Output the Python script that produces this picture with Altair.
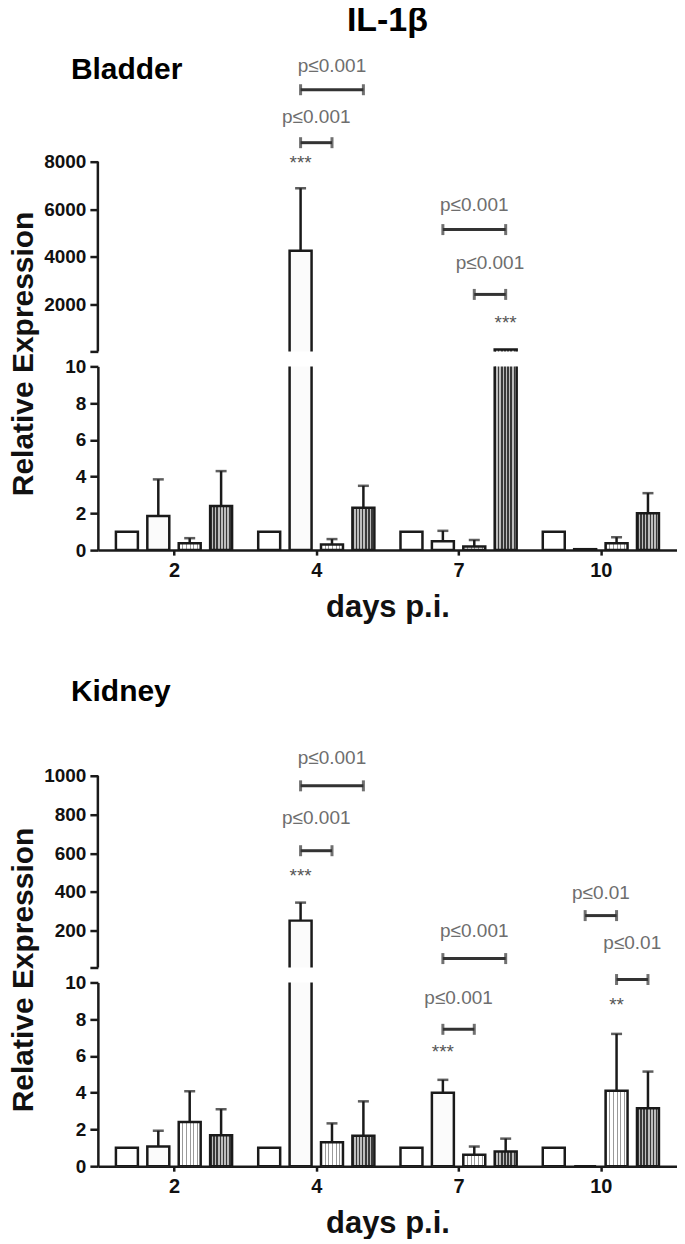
import json
import altair as alt
import pandas as pd

# ---------------- data ----------------
days = ["2", "4", "7", "10"]
series = ["group 1", "group 2", "group 3", "group 4"]

# mean relative expression, rows = day, cols = group
bladder_mean = [
    [1.0, 1.85, 0.38, 2.4],
    [1.0, 4250.0, 0.3, 2.3],
    [1.0, 0.48, 0.2, 90.0],
    [1.0, 0.05, 0.38, 2.0],
]
# top of the (upper) error bar
bladder_err = [
    [1.0, 3.85, 0.65, 4.3],
    [1.0, 6880.0, 0.6, 3.5],
    [1.0, 1.05, 0.55, 90.0],
    [1.0, 0.05, 0.7, 3.1],
]
kidney_mean = [
    [1.0, 1.07, 2.4, 1.68],
    [1.0, 252.0, 1.3, 1.66],
    [1.0, 4.0, 0.62, 0.8],
    [1.0, 0.0, 4.1, 3.15],
]
kidney_err = [
    [1.0, 1.93, 4.08, 3.1],
    [1.0, 345.0, 2.33, 3.53],
    [1.0, 4.7, 1.07, 1.5],
    [1.0, 0.0, 7.2, 5.15],
]

# significance brackets: (segment, day index, from group, to group, y value)
bladder_brackets = [
    ("upper", 1, 1, 2, 8800),
    ("upper", 1, 1, 3, 11030),
    ("upper", 2, 1, 3, 5140),
    ("upper", 2, 2, 3, 2410),
]
bladder_plabels = [
    ("upper", 1, 1, 2, 9890, "p≤0.001"),
    ("upper", 1, 1, 3, 12040, "p≤0.001"),
    ("upper", 2, 1, 3, 6190, "p≤0.001"),
    ("upper", 2, 2, 3, 3750, "p≤0.001"),
]
bladder_stars = [
    ("upper", 1, 1, 8126, "***"),
    ("upper", 2, 3, 1356, "***"),
]
kidney_brackets = [
    ("upper", 1, 1, 2, 613),
    ("upper", 1, 1, 3, 948),
    ("upper", 2, 1, 3, 56),
    ("lower", 2, 1, 2, 7.45),
    ("upper", 3, 1, 2, 278),
    ("lower", 3, 2, 3, 10.16),
]
kidney_plabels = [
    ("upper", 1, 1, 2, 783, "p≤0.001"),
    ("upper", 1, 1, 3, 1093, "p≤0.001"),
    ("upper", 2, 1, 3, 196, "p≤0.001"),
    ("lower", 2, 1, 2, 9.13, "p≤0.001"),
    ("upper", 3, 1, 2, 397, "p≤0.01"),
    ("upper", 3, 2, 3, 134, "p≤0.01"),
]
kidney_stars = [
    ("upper", 1, 1, 505, "***"),
    ("lower", 2, 1, 6.41, "***"),
    ("lower", 3, 2, 8.97, "**"),
]

bladder_upper_ticks = [10, 2000, 4000, 6000, 8000]
kidney_upper_ticks = [10, 200, 400, 600, 800, 1000]
lower_ticks = [0, 2, 4, 6, 8, 10]

# ---------------- styling / layout ----------------
FONT = "Liberation Sans"
INK = "#1a1a1a"
STEP = 32 / 145          # distance between bar centres, in group units
W = 580
xscale = alt.Scale(domain=[-0.5, 3.5], nice=False, zero=False)


def stripes(n, line, bg, frac):
    stops = []
    for i in range(n):
        a, b, c = i / n, (i + frac) / n, (i + 1) / n
        stops += [
            alt.GradientStop(offset=a, color=line),
            alt.GradientStop(offset=b, color=line),
            alt.GradientStop(offset=b, color=bg),
            alt.GradientStop(offset=c, color=bg),
        ]
    return alt.LinearGradient(gradient="linear", stops=stops, x1=0, x2=1, y1=0, y2=0)


fills = [
    "#ffffff",
    "#fbfbfb",
    stripes(6, "#9a9a9a", "#ffffff", 0.3),
    stripes(7, "#3a3a3a", "#bdbdbd", 0.5),
]


def pos(d, s):
    return d + (s - 1.5) * STEP


rows = []
for panel, mean, err in (("Bladder", bladder_mean, bladder_err),
                         ("Kidney", kidney_mean, kidney_err)):
    for d in range(len(days)):
        for s in range(len(series)):
            rows.append(dict(panel=panel, day=days[d], s=s, series=series[s],
                             mean=mean[d][s], err=err[d][s], pos=pos(d, s)))
bars = pd.DataFrame(rows)

x_axis_lower = alt.Axis(
    values=list(range(len(days))),
    labelExpr=f"{json.dumps(days)}[datum.value]",
    title="days p.i.", grid=False, tickSize=5, labelPadding=5,
    titlePadding=12, labelFontSize=20, titleFontSize=31,
)

yaxis_values_bottom = {"Bladder": 10, "Kidney": 10}
yaxis_values_top = {"Bladder": bladder_upper_ticks[-1], "Kidney": kidney_upper_ticks[-1]}


def seg_chart(panel, seg, ydomain, height, yaxis, xaxis,
              brackets, plabels, stars, title_y=None, main_title=None):
    ysc = alt.Scale(domain=ydomain, nice=False, zero=False)
    pb = bars[bars.panel == panel]
    if seg == "upper":
        bb = pb[pb["mean"] > 10]
        base = ydomain[0] - 0.2 * (ydomain[1] - ydomain[0])
        eb = pb[(pb["mean"] > 10) & (pb["err"] > pb["mean"])]
    else:
        bb = pb
        base = 0
        eb = pb[(pb["err"] > pb["mean"]) & (pb["err"] <= 10)]

    def X(f):
        return alt.X(f"{f}:Q", scale=xscale, axis=xaxis)

    def Y(f):
        return alt.Y(f"{f}:Q", scale=ysc, axis=yaxis)

    layers = []
    if seg == "upper":
        ax = pd.DataFrame({"lo": [yaxis_values_bottom[panel]], "hi": [yaxis_values_top[panel]]})
        layers.append(alt.Chart(ax).mark_rule(color=INK, strokeWidth=2.5).encode(
            x=alt.value(0), y=Y("lo"), y2="hi:Q"))
    for i in range(len(series)):
        d = bb[bb.s == i]
        if len(d) == 0:
            continue
        layers.append(alt.Chart(d).mark_bar(
            fill=fills[i], stroke=INK, strokeWidth=2.5, size=22, clip=True,
            orient="vertical").encode(x=X("pos"), y=Y("mean"), y2=alt.datum(base)))
    if len(eb):
        layers.append(alt.Chart(eb).mark_rule(color=INK, strokeWidth=2.5).encode(
            x=X("pos"), y=Y("mean"), y2="err:Q"))
        layers.append(alt.Chart(eb).mark_tick(
            color=INK, thickness=2.5, size=11, orient="horizontal").encode(
            x=X("pos"), y=Y("err")))

    br = [b for b in brackets if b[0] == seg]
    if br:
        bdf = pd.DataFrame([dict(x1=pos(b[1], b[2]), x2=pos(b[1], b[3]), y=b[4]) for b in br])
        cdf = pd.DataFrame([dict(xc=pos(b[1], k), y=b[4]) for b in br for k in (b[2], b[3])])
        layers.append(alt.Chart(bdf).mark_rule(color="#333333", strokeWidth=3).encode(
            x=X("x1"), x2="x2:Q", y=Y("y")))
        layers.append(alt.Chart(cdf).mark_tick(
            color="#333333", thickness=3, size=11, orient="vertical").encode(
            x=X("xc"), y=Y("y")))
    pl = [p for p in plabels if p[0] == seg]
    if pl:
        ldf = pd.DataFrame([dict(xm=(pos(p[1], p[2]) + pos(p[1], p[3])) / 2, y=p[4], t=p[5]) for p in pl])
        layers.append(alt.Chart(ldf).mark_text(
            color="#6e6e6e", fontSize=19, baseline="middle", align="center").encode(
            x=X("xm"), y=Y("y"), text="t:N"))
    st = [p for p in stars if p[0] == seg]
    if st:
        sdf = pd.DataFrame([dict(xs=pos(p[1], p[2]), y=p[3], t=p[4]) for p in st])
        layers.append(alt.Chart(sdf).mark_text(
            color="#555555", fontSize=19, baseline="middle", align="center", dy=4).encode(
            x=X("xs"), y=Y("y"), text="t:N"))
    if title_y is not None:
        tdf = pd.DataFrame({"xt": [-0.5], "y": [title_y], "t": [panel]})
        layers.append(alt.Chart(tdf).mark_text(
            color="#000000", fontSize=30, fontWeight="bold", baseline="middle",
            align="left", dx=-32).encode(x=X("xt"), y=Y("y"), text="t:N"))
    props = dict(width=W, height=height)
    if main_title is not None:
        props["title"] = alt.TitleParams(main_title, anchor="middle", frame="group",
                                         offset=14, fontSize=34, fontWeight="bold",
                                         color="#000000")
    return alt.layer(*layers).properties(**props)


def upper_axis(ticks):
    return alt.Axis(values=ticks, labelExpr="datum.value < 100 ? '' : datum.label",
                    format="d", domain=False, title=None, grid=False,
                    tickSize=8, labelPadding=4)


lower_axis = alt.Axis(values=lower_ticks, format="d", grid=False,
                      tickSize=8, labelPadding=4,
                      title="Relative Expression", titleX=-65, titleY=-13,
                      titleAngle=270, titleBaseline="alphabetic", titleAlign="center",
                      titleFontSize=30)

b_up = seg_chart("Bladder", "upper", [10, 12625], 300, upper_axis(bladder_upper_ticks), None,
                 bladder_brackets, bladder_plabels, bladder_stars, title_y=11869,
                 main_title="IL-1β")
b_lo = seg_chart("Bladder", "lower", [0, 10], 184, lower_axis, x_axis_lower,
                 bladder_brackets, bladder_plabels, bladder_stars)
k_up = seg_chart("Kidney", "upper", [10, 2088], 403, upper_axis(kidney_upper_ticks), None,
                 kidney_brackets, kidney_plabels, kidney_stars, title_y=1433)
k_lo = seg_chart("Kidney", "lower", [0, 10], 184, lower_axis, x_axis_lower,
                 kidney_brackets, kidney_plabels, kidney_stars)

chart = alt.vconcat(
    b_up, b_lo, k_up, k_lo, spacing=15, bounds="flush",
    padding={"top": -5, "left": 0, "right": 0, "bottom": 0},
).configure(
    font=FONT
).configure_view(stroke=None).configure_axis(
    labelFont=FONT, titleFont=FONT, labelFontWeight="bold", titleFontWeight="bold",
    labelColor="#111111", titleColor="#111111", labelFontSize=19,
    domainColor=INK, tickColor=INK, domainWidth=2.5, tickWidth=2.5,
)

chart.save("out.html", embed_options={"renderer": "svg", "actions": False})
